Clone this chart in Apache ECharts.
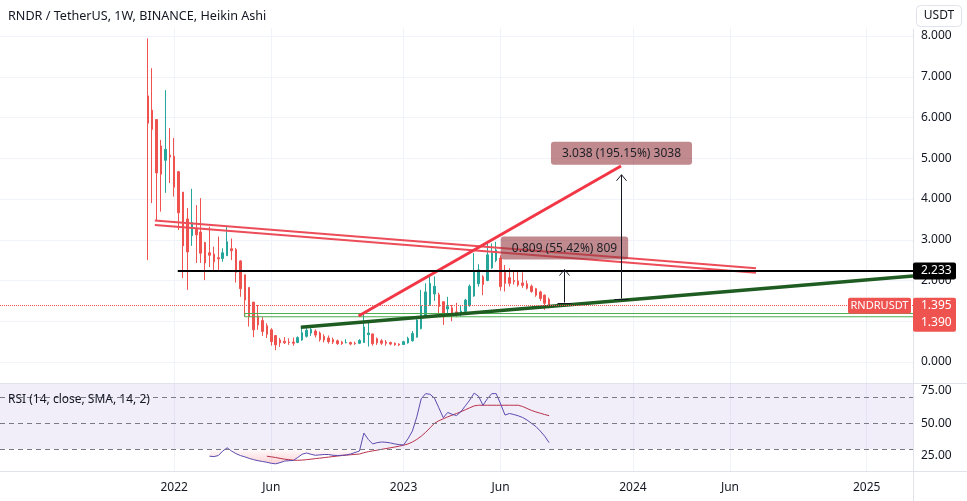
<!DOCTYPE html>
<html><head><meta charset="utf-8">
<script src="https://cdn.jsdelivr.net/npm/echarts@6/dist/echarts.min.js"></script>
<style>html,body{margin:0;padding:0;background:#fff}#c{width:967px;height:501px}</style>
</head><body><div id="c"></div><script>
// ---------- data ----------
const firstWeekUTC = Date.UTC(2021, 3, 5);   // first weekly category on the axis (Monday)
const weekCount = 207;
const firstCandleWeek = 33;                  // 2021-11-22

const tickDates  = ['2022-01-03','2022-06-06','2023-01-02','2023-06-05','2024-01-01','2024-06-03','2025-01-06'];
const tickLabels = ['2022','Jun','2023','Jun','2024','Jun','2025'];

const haOpen  = [6.53,6.18,5.95,5.30,4.95,5.08,5.05,4.67,4.17,3.51,3.10,3.26,3.19,2.93,2.68,2.65,2.56,2.54,2.61,2.78,
                 2.76,2.48,2.14,1.83,1.47,1.13,1.02,0.89,0.79,0.65,0.54,0.51,0.49,0.49,0.48,0.54,0.63,0.71,0.76,0.71,
                 0.63,0.59,0.55,0.52,0.49,0.47,0.48,0.46,0.46,0.48,0.67,0.69,0.57,0.52,0.49,0.48,0.46,0.44,0.43,0.47,
                 0.52,0.61,0.82,1.10,1.41,1.67,1.65,1.48,1.30,1.33,1.23,1.22,1.24,1.38,1.62,1.92,2.09,2.00,2.31,2.49,
                 2.55,2.20,2.07,2.00,1.99,1.94,1.92,1.86,1.80,1.72,1.64,1.54];
const haClose = [5.86,5.71,4.64,4.61,5.22,5.03,4.29,3.66,2.85,2.70,3.42,3.12,2.67,2.43,2.62,2.46,2.53,2.68,2.95,2.73,
                 2.20,1.80,1.52,1.11,0.79,0.91,0.75,0.68,0.50,0.42,0.47,0.47,0.48,0.46,0.60,0.72,0.78,0.80,0.66,0.55,
                 0.54,0.50,0.49,0.45,0.45,0.48,0.44,0.45,0.53,0.86,0.71,0.45,0.47,0.46,0.46,0.44,0.42,0.42,0.50,0.58,
                 0.70,1.03,1.38,1.72,1.93,1.86,1.36,1.11,1.36,1.13,1.20,1.25,1.52,1.86,2.22,2.26,1.90,2.63,2.67,2.75,
                 1.85,1.93,1.93,1.97,1.89,1.88,1.81,1.73,1.64,1.56,1.44,1.40];
const haLow   = [2.50,3.90,3.48,3.69,4.15,4.39,4.06,3.24,2.06,1.77,2.85,2.43,2.43,2.01,2.33,2.26,2.26,2.46,2.60,2.50,
                 1.95,1.60,1.11,0.87,0.61,0.79,0.64,0.59,0.40,0.29,0.37,0.44,0.42,0.40,0.46,0.52,0.60,0.64,0.60,0.50,
                 0.48,0.45,0.44,0.42,0.42,0.46,0.41,0.42,0.44,0.47,0.38,0.40,0.42,0.42,0.40,0.41,0.40,0.39,0.42,0.45,
                 0.50,0.60,0.80,1.08,1.38,1.50,1.13,0.91,1.15,1.00,1.10,1.12,1.22,1.36,1.60,1.85,1.64,1.98,2.29,2.45,
                 1.75,1.73,1.85,1.90,1.85,1.82,1.78,1.70,1.60,1.50,1.28,1.32];
const haHigh  = [7.94,7.21,5.96,5.45,6.67,5.74,5.50,4.69,4.17,3.78,4.25,3.85,4.02,2.95,3.32,2.83,3.08,2.79,3.31,3.03,
                 2.80,2.50,2.14,1.83,1.47,1.40,1.10,0.95,0.83,0.65,0.59,0.61,0.58,0.60,0.63,0.87,0.87,0.88,0.80,0.75,
                 0.68,0.65,0.60,0.55,0.52,0.56,0.50,0.50,0.56,1.20,1.00,0.69,0.60,0.56,0.54,0.50,0.48,0.46,0.52,0.62,
                 0.76,1.05,1.77,1.93,2.09,2.10,1.70,1.48,1.60,1.40,1.45,1.40,1.55,1.90,2.67,2.40,2.13,2.91,2.91,2.95,
                 2.62,2.38,2.30,2.22,2.25,2.20,2.00,1.90,1.82,1.75,1.66,1.58];

const rsiStart = 14;   // candle index of first RSI value
const rsiValues = [24.5,24.2,25.0,28.5,31.0,28.5,26.5,25.0,24.0,22.8,21.8,21.0,20.4,19.8,19.0,18.6,19.5,20.7,21.0,21.2,
                   23.5,26.0,27.0,26.0,25.2,25.5,25.8,25.8,25.2,25.0,25.2,25.5,26.2,27.4,28.5,42.4,37.5,34.0,35.0,35.5,
                   35.3,34.8,34.0,33.5,33.2,38.0,44.0,55.0,69.0,73.0,72.5,69.5,62.0,54.3,58.4,57.0,56.0,59.0,63.5,68.0,
                   73.4,71.0,64.0,69.0,73.0,73.0,65.0,56.4,57.6,56.8,55.8,54.5,52.5,50.0,47.5,44.0,40.0,35.0];
const smaStart = 27;
const smaValues = [24.5,24.0,23.5,22.8,22.2,21.8,21.4,21.3,21.5,21.8,22.2,22.6,23.0,23.4,23.8,24.2,24.6,25.0,25.3,25.6,
                   25.9,26.2,27.2,28.0,28.6,29.2,29.8,30.4,31.0,31.6,32.3,33.0,34.0,35.5,37.5,40.0,43.0,46.5,50.0,52.0,
                   53.5,55.0,56.3,57.6,59.0,60.5,62.0,63.5,64.0,64.0,64.0,64.0,64.0,64.0,64.0,64.0,64.0,64.0,63.0,61.5,
                   60.0,58.8,57.8,56.8,55.9];

// drawings, x in weeks from the first candle, y in USDT
const channelUpper = [[1.6,3.47],[137.9,2.30]];
const channelLower = [[1.6,3.36],[137.9,2.19]];
const riseLine     = [[47.8,1.13],[107.3,4.81]];
const resistance   = [[6.8,2.233],[173.5,2.233]];
const supportLine  = [[34.7,0.85],[173.5,2.11]];
const zoneTop      = [[22,1.19],[173.5,1.19]];
const zoneBottom   = [[22,1.11],[173.5,1.11]];
const zoneEdge     = [[22,1.11],[22,1.19]];
const measures     = [[94.3,1.460,2.269],[107.3,1.557,4.595]];
const measureLabels = ['0.809 (55.42%) 809','3.038 (195.15%) 3038'];
const lastPrice = 1.395, secondPrice = 1.390, resistanceLevel = 2.233;
const rsiBands = [70,50,30];

// ---------- build ----------
const weekDate = k => new Date(firstWeekUTC + k*7*86400000).toISOString().slice(0,10);
const weeks = Array.from({length: weekCount}, (_, k) => weekDate(k));
const candleData = haOpen.map((o,i) => [weekDate(firstCandleWeek+i), o, haClose[i], haLow[i], haHigh[i]]);
const rsiData = rsiValues.map((v,i) => [weekDate(firstCandleWeek+rsiStart+i), v]);
const smaData = smaValues.map((v,i) => [weekDate(firstCandleWeek+smaStart+i), v]);
const osData  = rsiValues.map((v,i) => [weekDate(firstCandleWeek+rsiStart+i), Math.min(v,30)]);
const isTick = (idx, val) => tickDates.indexOf(val) >= 0;

const FONT = "'Noto Sans', 'DejaVu Sans', sans-serif";
const UP = '#26a69a', DOWN = '#ef5350';

function lineSeries(data, color, width, z) {
  return {type:'line', xAxisIndex:1, yAxisIndex:0, data, symbol:'none', silent:true, z: z||3,
          lineStyle:{color, width}, animation:false};
}

const option = {
  animation:false,
  backgroundColor:'#ffffff',
  textStyle:{fontFamily:FONT},
  grid:[
    {left:0, right:54, top:36, height:326, outerBoundsMode:'none'},
    {left:0, right:54, top:358.8, height:129, outerBoundsMode:'none'},
    {left:0, right:54, top:28, height:443, outerBoundsMode:'none'}
  ],
  xAxis:[
    {gridIndex:0, type:'category', data:weeks, axisLine:{show:false}, axisTick:{show:false}, axisLabel:{show:false}, splitLine:{show:false}},
    {gridIndex:0, type:'value', min:-33.5, max:173.5, show:false},
    {gridIndex:1, type:'category', data:weeks, show:false},
    {gridIndex:2, type:'category', data:weeks, axisLine:{show:false}, axisTick:{show:false},
     axisLabel:{interval:isTick, formatter:v => tickLabels[tickDates.indexOf(v)], color:'#131722', fontSize:12, margin:11, fontFamily:FONT},
     splitLine:{show:true, interval:isTick, alignWithLabel:true, lineStyle:{color:'#f0f3fa', width:1}}}
  ],
  yAxis:[
    {gridIndex:0, type:'value', position:'right', min:0, max:8, interval:1,
     axisLine:{show:false}, axisTick:{show:false},
     axisLabel:{formatter:v => v.toFixed(3), color:'#131722', fontSize:12, margin:8, fontFamily:FONT},
     splitLine:{lineStyle:{color:'#f0f3fa', width:1}}},
    {gridIndex:1, type:'value', position:'right', min:0, max:100, interval:25,
     axisLine:{show:false}, axisTick:{show:false}, splitLine:{show:false},
     axisLabel:{formatter:v => (v>0 && v<100) ? v.toFixed(2) : '', color:'#131722', fontSize:12, margin:8, fontFamily:FONT}},
    {gridIndex:2, type:'value', min:0, max:1, show:false}
  ],
  series:[
    {type:'candlestick', xAxisIndex:0, yAxisIndex:0, data:candleData, encode:{x:0, y:[1,2,3,4]},
     barWidth:2, z:2,
     itemStyle:{color:UP, color0:DOWN, borderColor:UP, borderColor0:DOWN, borderWidth:1},
     markLine:{silent:true, symbol:'none', label:{show:false}, animation:false,
       lineStyle:{color:DOWN, type:'dotted', width:1}, data:[{yAxis:lastPrice}]}},
    lineSeries(zoneTop, '#4caf50', 1),
    lineSeries(zoneBottom, '#4caf50', 1),
    lineSeries(zoneEdge, '#4caf50', 1),
    lineSeries(channelUpper, '#ec4d59', 2),
    lineSeries(channelLower, '#ec4d59', 2),
    lineSeries(riseLine, '#f23645', 3),
    lineSeries(resistance, '#000000', 2),
    lineSeries(supportLine, '#1e5c21', 3.5),
    {type:'custom', xAxisIndex:1, yAxisIndex:0, data:measures, z:5, silent:true, clip:false,
     renderItem:(params, api) => {
       const b = api.coord([api.value(0), api.value(1)]);
       const t = api.coord([api.value(0), api.value(2)]);
       const px = Math.round(b[0]) + 0.5;
       const ink = '#131722';
       return {type:'group', children:[
         {type:'line', shape:{x1:px, y1:b[1], x2:px, y2:t[1]}, style:{stroke:ink, lineWidth:1}},
         {type:'line', shape:{x1:px-7, y1:Math.round(b[1])+0.5, x2:px+7, y2:Math.round(b[1])+0.5}, style:{stroke:ink, lineWidth:1}},
         {type:'polyline', shape:{points:[[px-5,t[1]+6],[px,t[1]],[px+5,t[1]+6]]}, style:{stroke:ink, fill:null, lineWidth:1}},
         {type:'text', style:{text:measureLabels[params.dataIndex], x:px, y:t[1]-10,
           align:'center', verticalAlign:'bottom', font:"12px 'Noto Sans'", fill:'#1d1f26',
           backgroundColor:'rgba(150,60,66,0.6)', padding:[6,11,5,11], borderRadius:3}}
       ]};
     }},
    {type:'line', xAxisIndex:2, yAxisIndex:1, data:osData, symbol:'none', silent:true, z:1,
     lineStyle:{width:0, opacity:0},
     areaStyle:{origin:30, color:new echarts.graphic.LinearGradient(0,0,0,1,[
       {offset:0, color:'rgba(242,54,69,0.02)'},{offset:1, color:'rgba(242,54,69,0.32)'}])}},
    {type:'line', xAxisIndex:2, yAxisIndex:1, data:rsiData, symbol:'none', silent:true, z:3,
     lineStyle:{color:'#5b4bb0', width:1},
     markArea:{silent:true, itemStyle:{color:'rgba(126,87,194,0.1)'}, data:[[{yAxis:30},{yAxis:81}]]},
     markLine:{silent:true, symbol:'none', label:{show:false},
       lineStyle:{color:'#787b86', type:[5,4], width:1}, data:rsiBands.map(v => ({yAxis:v}))}},
    {type:'line', xAxisIndex:2, yAxisIndex:1, data:smaData, symbol:'none', silent:true, z:2,
     lineStyle:{color:'#b9324a', width:1}}
  ]
};

const chart = echarts.init(document.getElementById('c'));
chart.setOption(option);

const yL = chart.convertToPixel({yAxisIndex:0}, lastPrice);
const yR = chart.convertToPixel({yAxisIndex:0}, resistanceLevel);
const AX = 913;
const tagFont = "12px 'Noto Sans'";
chart.setOption({graphic:[
  {type:'line', z:50, shape:{x1:0, y1:383.5, x2:967, y2:383.5}, style:{stroke:'#e0e3eb', lineWidth:1}},
  {type:'line', z:50, shape:{x1:0, y1:471.5, x2:967, y2:471.5}, style:{stroke:'#e0e3eb', lineWidth:1}},
  {type:'line', z:50, shape:{x1:AX+0.5, y1:29, x2:AX+0.5, y2:501}, style:{stroke:'#e0e3eb', lineWidth:1}},
  {type:'text', z:50, style:{text:'RNDR / TetherUS, 1W, BINANCE, Heikin Ashi', x:8, y:16, verticalAlign:'middle', font:"12.6px 'Noto Sans'", fill:'#131722'}},
  {type:'text', z:50, style:{text:'RSI (14, close, SMA, 14, 2)', x:8, y:400, verticalAlign:'middle', font:"12px 'Noto Sans'", fill:'#131722'}},
  {type:'rect', z:50, shape:{x:916.5, y:5.5, width:45, height:21, r:4}, style:{fill:'#fff', stroke:'#e0e3eb', lineWidth:1}},
  {type:'text', z:51, style:{text:'USDT', x:939, y:16, align:'center', verticalAlign:'middle', font:"12px 'Noto Sans'", fill:'#131722'}},
  {type:'rect', z:60, shape:{x:AX, y:yR-8.5, width:43, height:17, r:2}, style:{fill:'#000'}},
  {type:'text', z:61, style:{text:resistanceLevel.toFixed(3), x:AX+8, y:yR, verticalAlign:'middle', font:tagFont, fill:'#fff'}},
  {type:'rect', z:60, shape:{x:AX, y:yL-7.5, width:43, height:34, r:2}, style:{fill:DOWN}},
  {type:'text', z:61, style:{text:lastPrice.toFixed(3), x:AX+8, y:yL+0.5, verticalAlign:'middle', font:tagFont, fill:'#fff'}},
  {type:'text', z:61, style:{text:secondPrice.toFixed(3), x:AX+8, y:yL+17.5, verticalAlign:'middle', font:tagFont, fill:'#fff'}},
  {type:'rect', z:60, shape:{x:848, y:yL-7.5, width:63, height:16, r:2}, style:{fill:DOWN}},
  {type:'text', z:61, style:{text:'RNDRUSDT', x:879.5, y:yL+0.5, align:'center', verticalAlign:'middle', font:"11px 'Noto Sans'", fill:'#fff'}}
]});
</script></body></html>
